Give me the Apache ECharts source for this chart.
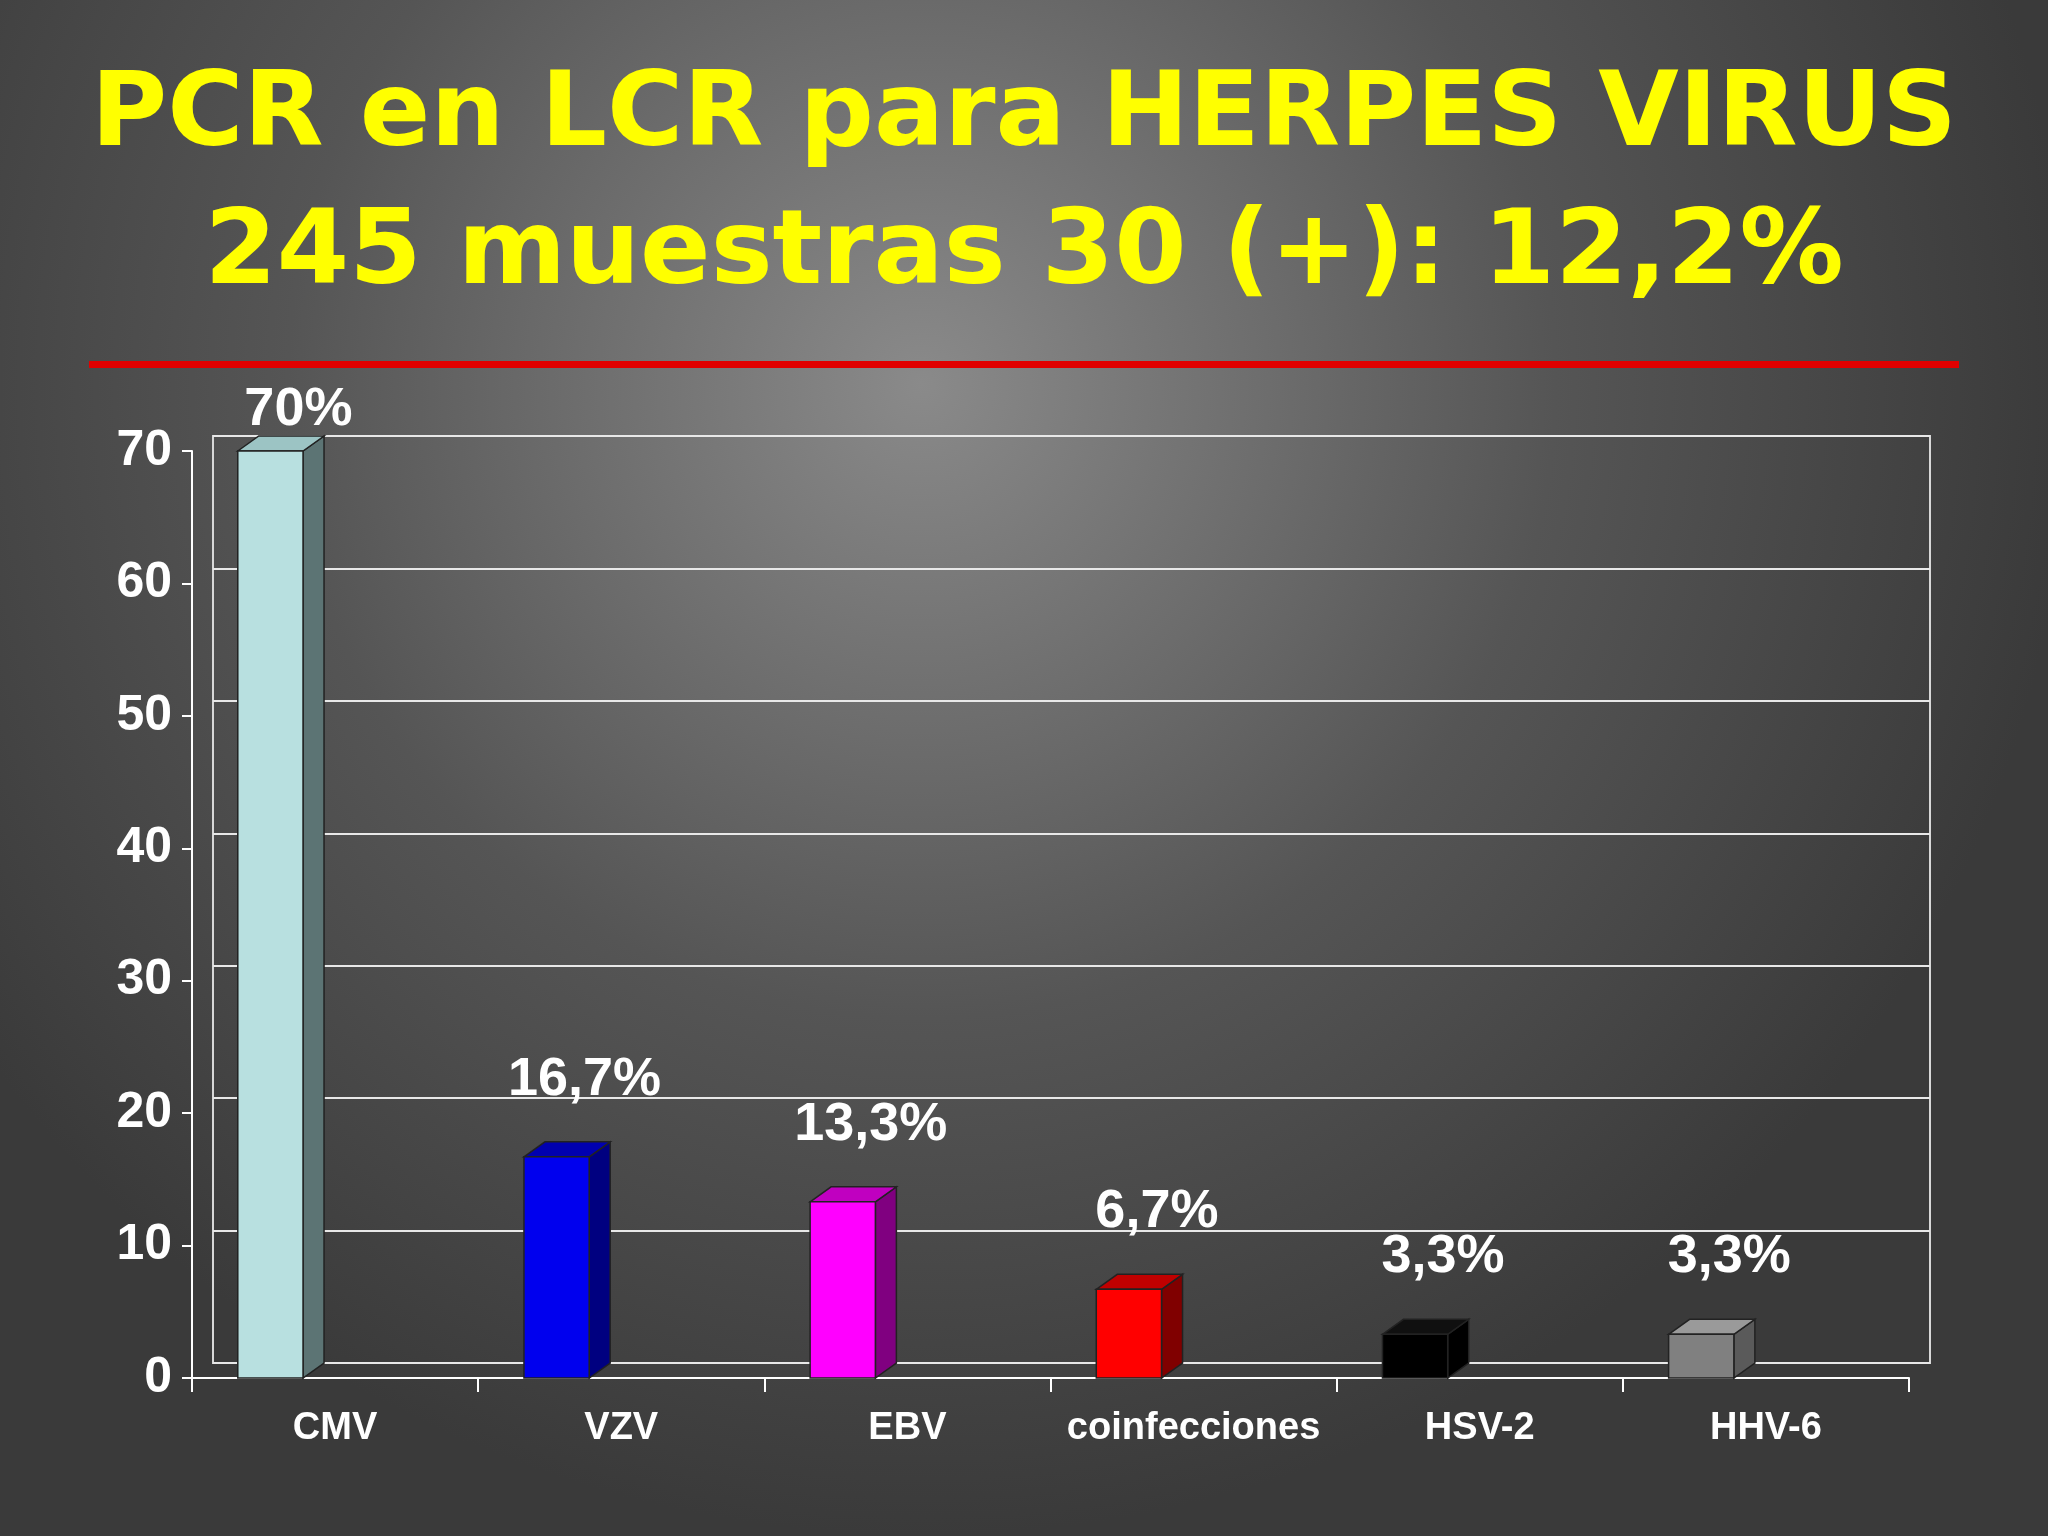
<!DOCTYPE html>
<html><head><meta charset="utf-8">
<script src="https://cdn.jsdelivr.net/npm/echarts@6/dist/echarts.min.js"></script>
<style>html,body{margin:0;padding:0;background:#3a3a3a}#c{width:2048px;height:1536px}</style>
</head><body><div id="c"></div>
<script>
const categories = ['CMV','VZV','EBV','coinfecciones','HSV-2','HHV-6'];
const values = [70,16.7,13.3,6.7,3.3,3.3];
const labels = ['70%','16,7%','13,3%','6,7%','3,3%','3,3%'];
const yTicks = [0,10,20,30,40,50,60,70];
const faceColors = ['#b8e0e0','#0000ee','#ff00ff','#ff0000','#000000','#808080'];
const sideColors = ['#5c7474','#000080','#800080','#800000','#000000','#5a5a5a'];
const topColors  = ['#9cc4c4','#0000b0','#c000c0','#c00000','#101010','#9a9a9a'];

const DX = 21, DY = -15;
const chart = echarts.init(document.getElementById('c'));
chart.setOption({
  backgroundColor: {type:'radial', x:0.45, y:0.25, r:0.75,
    colorStops:[{offset:0,color:'#8a8a8a'},{offset:0.55,color:'#555555'},{offset:1,color:'#3a3a3a'}]},
  title: {text:'PCR en LCR para HERPES VIRUS\n245 muestras 30 (+): 12,2%', left:'center', top:44,
    textStyle:{color:'#ffff00', fontSize:104, fontWeight:'bold', fontFamily:'DejaVu Sans', lineHeight:138}},
  graphic: [{type:'rect', shape:{x:89,y:361,width:1870,height:7}, style:{fill:'#e00000'}}],
  grid: [
    {left:192, right:139, top:451, bottom:158},
    {left:213, right:118, top:436, bottom:173, show:true, borderColor:'#d8d8d8', borderWidth:2, backgroundColor:'transparent'}
  ],
  xAxis: [
    {type:'category', data:categories, gridIndex:0,
      axisLine:{lineStyle:{color:'#ffffff', width:2}},
      axisTick:{show:true, interval:0, length:14, lineStyle:{color:'#ffffff', width:2}},
      axisLabel:{interval:0, color:'#ffffff', fontSize:38, fontWeight:'bold', fontFamily:'Liberation Sans', margin:32}},
    {type:'category', data:categories, gridIndex:1, show:false}
  ],
  yAxis: [
    {type:'value', min:0, max:70, interval:10, gridIndex:0,
      axisLine:{show:true, lineStyle:{color:'#ffffff', width:2}},
      axisTick:{show:true, length:10, lineStyle:{color:'#ffffff', width:2}},
      splitLine:{show:false},
      axisLabel:{color:'#ffffff', fontSize:50, fontWeight:'bold', fontFamily:'Liberation Sans', margin:20,
        formatter:v=>yTicks.includes(v)?String(v):''}},
    {type:'value', min:0, max:70, interval:10, gridIndex:1,
      axisLine:{show:false}, axisTick:{show:false}, axisLabel:{show:false},
      splitLine:{show:true, lineStyle:{color:'#e8e8e8', width:2}}}
  ],
  series: [{
    type:'custom', xAxisIndex:0, yAxisIndex:0,
    data: values.map((v,i)=>[i,v]),
    renderItem:(params, api)=>{
      const i = api.value(0), v = api.value(1);
      const band = api.size([1,0])[0];
      const c = api.coord([i,v]), b = api.coord([i,0]);
      const x0 = c[0] - band/2 + band*0.16, w = band*0.228;
      const y1 = c[1], y0 = b[1];
      const lc = '#222';
      return {type:'group', children:[
        {type:'polygon', shape:{points:[[x0+w,y1],[x0+w+DX,y1+DY],[x0+w+DX,y0+DY],[x0+w,y0]]}, style:{fill:sideColors[i], stroke:lc, lineWidth:1.5}},
        {type:'polygon', shape:{points:[[x0,y1],[x0+DX,y1+DY],[x0+w+DX,y1+DY],[x0+w,y1]]}, style:{fill:topColors[i], stroke:lc, lineWidth:1.5}},
        {type:'rect', shape:{x:x0, y:y1, width:w, height:y0-y1}, style:{fill:faceColors[i], stroke:lc, lineWidth:1.5}},
        {type:'text', x:x0+w/2+28, y:y1-(i===0?14:50), style:{text:labels[i], fill:'#ffffff', font:'bold 54px "Liberation Sans"', align:'center', verticalAlign:'bottom'}}
      ]};
    }
  }]
});
</script></body></html>
